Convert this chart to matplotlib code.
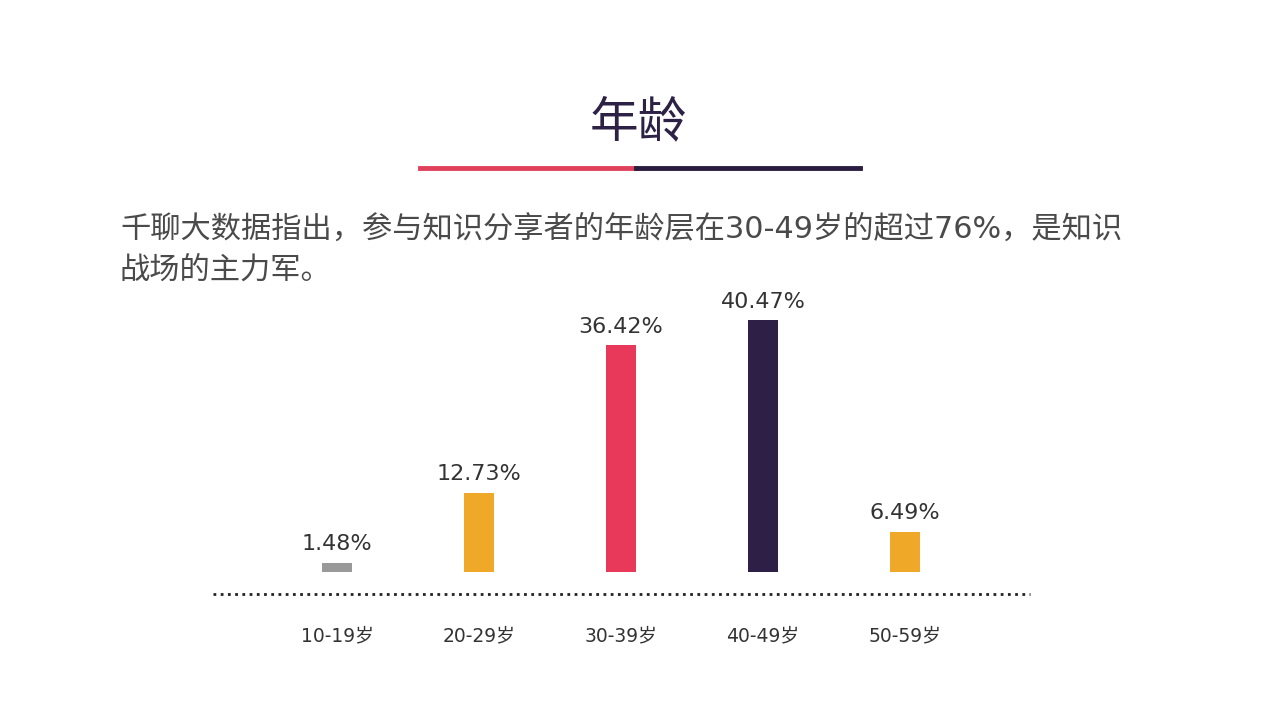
import matplotlib
matplotlib.use('Agg')

import matplotlib.pyplot as plt
from matplotlib.lines import Line2D

plt.rcParams['font.family'] = ['DejaVu Sans', 'Noto Sans CJK SC']

# -----------------------------
# Data
# -----------------------------
categories = ['10-19岁', '20-29岁', '30-39岁', '40-49岁', '50-59岁']
values = [1.48, 12.73, 36.42, 40.47, 6.49]
labels = ['1.48%', '12.73%', '36.42%', '40.47%', '6.49%']
colors = ['#999999', '#f0a828', '#e8395a', '#2e1f47', '#f0a828']

title = '年龄'
body = '千聊大数据指出，参与知识分享者的年龄层在30-49岁的超过76%，是知识\n战场的主力军。'

W, H = 1280, 720

fig = plt.figure(figsize=(12.8, 7.2), dpi=100)
fig.patch.set_facecolor('white')

# -----------------------------
# Title + underline
# -----------------------------
fig.text(638 / W, 1 - 122 / H, title, ha='center', va='center',
         fontsize=35, color='#2d2245', family=['Noto Sans CJK SC'],
         fontweight='light')
fig.add_artist(Line2D([420 / W, 636 / W], [1 - 168 / H, 1 - 168 / H],
                      color='#e0415a', lw=3.5, transform=fig.transFigure))
fig.add_artist(Line2D([636 / W, 860 / W], [1 - 168 / H, 1 - 168 / H],
                      color='#2a1e40', lw=3.5, transform=fig.transFigure))

# -----------------------------
# Body text
# -----------------------------
fig.text(120 / W, 1 - 215 / H, body, ha='left', va='top', fontsize=21.8,
         color='#4a4a4a', linespacing=1.48)

# -----------------------------
# Bars
# -----------------------------
x0, x1 = 213, 1030          # dotted baseline extent, px
y_base, y_top = 594, 320    # baseline and tallest bar top, px
ax = fig.add_axes([x0 / W, 1 - y_base / H, (x1 - x0) / W, (y_base - y_top) / H])
ax.set_facecolor('none')

xs = list(range(len(categories)))
ax.bar(xs, values, width=0.21, color=colors)

px_per_unit = (572 - y_top) / max(values)
ymin = -(y_base - 572) / px_per_unit
ax.set_ylim(ymin, max(values))
ax.set_xlim((x0 - 337) / 142, (x1 - 337) / 142)
ax.axhline(ymin, color='#222222', lw=2, linestyle=(0, (1, 1.6)), clip_on=False)

for x, v, lab in zip(xs, values, labels):
    ax.annotate(lab, (x, v), xytext=(0, 6), textcoords='offset points',
                ha='center', va='bottom', fontsize=16, color='#333333')

ax.set_xticks(xs)
ax.set_xticklabels(categories, fontsize=13.5, color='#333333')
ax.tick_params(axis='x', length=0, pad=23)
ax.set_yticks([])
for s in ax.spines.values():
    s.set_visible(False)

plt.savefig('out.png', dpi=100)
